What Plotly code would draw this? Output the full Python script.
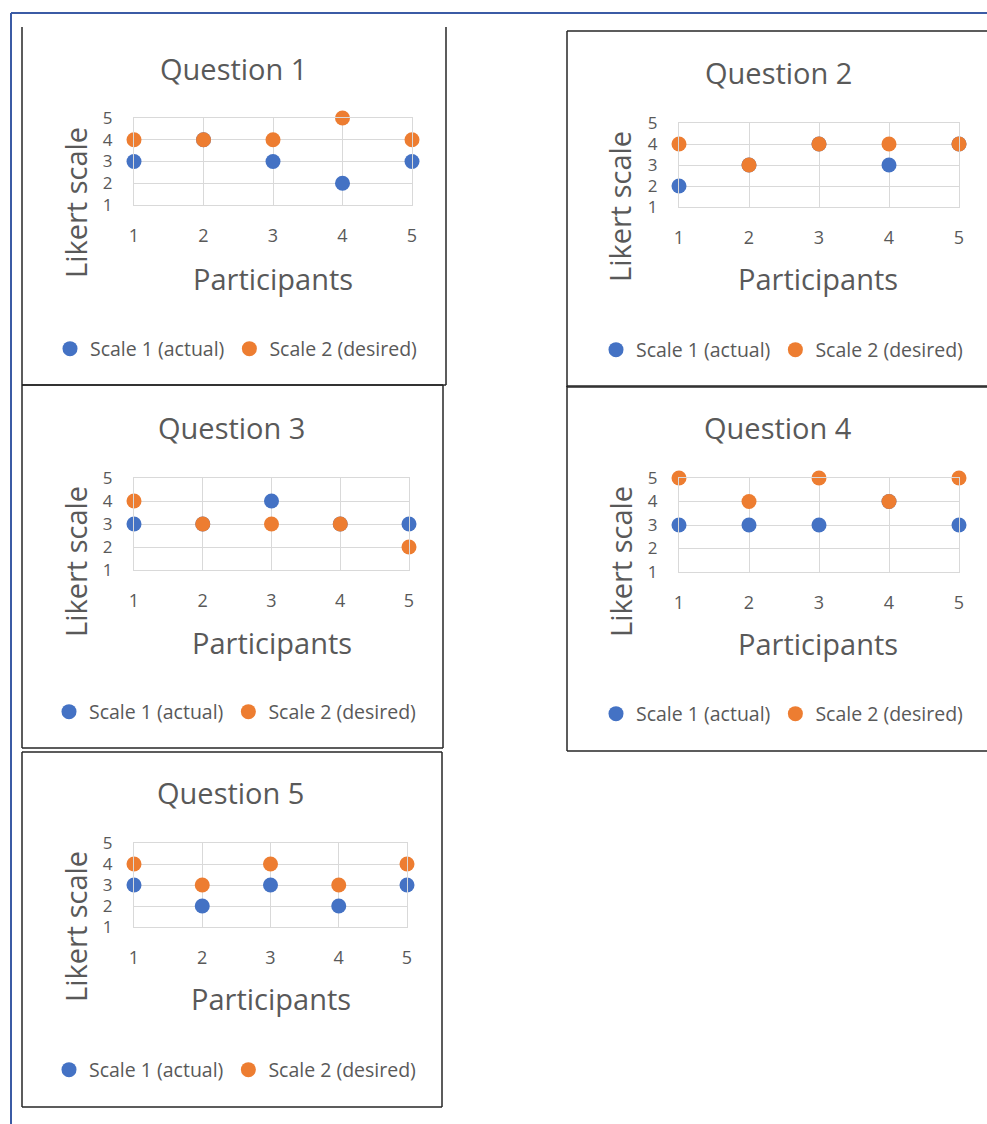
import plotly.graph_objects as go

W, H = 987, 1124

participants = [1, 2, 3, 4, 5]
likert_ticks = [1, 2, 3, 4, 5]
question_titles = ["Question 1", "Question 2", "Question 3", "Question 4", "Question 5"]
actual_q1 = [3, 4, 3, 2, 3]
desired_q1 = [4, 4, 4, 5, 4]
actual_q2 = [2, 3, 4, 3, 4]
desired_q2 = [4, 3, 4, 4, 4]
actual_q3 = [3, 3, 4, 3, 3]
desired_q3 = [4, 3, 3, 3, 2]
actual_q4 = [3, 3, 3, 4, 3]
desired_q4 = [5, 4, 5, 4, 5]
actual_q5 = [3, 2, 3, 2, 3]
desired_q5 = [4, 3, 4, 3, 4]
actual_all = [actual_q1, actual_q2, actual_q3, actual_q4, actual_q5]
desired_all = [desired_q1, desired_q2, desired_q3, desired_q4, desired_q5]
series_names = ["Scale 1 (actual)", "Scale 2 (desired)"]
x_title = "Participants"
y_title = "Likert scale"

BLUE = "#4472C4"
ORANGE = "#ED7D31"
TXT = "#595959"
GRID = "#D9D9D9"
FONT = "Open Sans"


def px(x):
    return x / W


def py(y):
    return 1 - y / H


# layout of each panel in pixels: plot area (x0, x1, ytop, ybottom), title center, axis-title positions, legend
panels = [
    dict(plot=(134, 412, 118, 205), title=(233, 68), ytit=(75, 203), xtit=(273, 278), leg=(50, 349),
         box=(22, 27, 446, 385, False)),
    dict(plot=(679, 959, 123, 207), title=(778, 72), ytit=(620, 207), xtit=(818, 278), leg=(596, 350),
         box=(567, 31, 1000, 387, True)),
    dict(plot=(134, 409, 478, 570), title=(231, 427), ytit=(75, 562), xtit=(272, 642), leg=(49, 712),
         box=(22, 385, 443, 748, True)),
    dict(plot=(679, 959, 478, 572), title=(778, 427), ytit=(620, 562), xtit=(818, 643), leg=(596, 714),
         box=(567, 386, 1000, 751, True)),
    dict(plot=(134, 407, 843, 927), title=(230, 792), ytit=(75, 927), xtit=(271, 998), leg=(49, 1070),
         box=(22, 752, 442, 1107, True)),
]

fig = go.Figure()
shapes = []
annotations = []
layout_upd = {}

for i, p in enumerate(panels):
    n = i + 1
    xa = "x" if n == 1 else f"x{n}"
    ya = "y" if n == 1 else f"y{n}"
    legname = "legend" if n == 1 else f"legend{n}"
    x0, x1, yt, yb = p["plot"]
    for vals, name, col in [(actual_all[i], series_names[0], BLUE), (desired_all[i], series_names[1], ORANGE)]:
        fig.add_trace(go.Scatter(
            x=participants, y=vals, mode="markers", name=name,
            marker=dict(color=col, size=15), xaxis=xa, yaxis=ya,
            legend=legname, cliponaxis=False,
        ))
    axkey = "xaxis" if n == 1 else f"xaxis{n}"
    aykey = "yaxis" if n == 1 else f"yaxis{n}"
    layout_upd[axkey] = dict(
        domain=[px(x0), px(x1)], range=[1, 5], tickvals=participants, anchor=ya,
        showgrid=True, gridcolor=GRID, gridwidth=1, zeroline=False,
        showline=True, linecolor=GRID, linewidth=1, mirror=True,
        tickfont=dict(family=FONT, size=18, color=TXT), ticks="", ticklabelstandoff=14,
        fixedrange=True, automargin=False,
    )
    layout_upd[aykey] = dict(
        domain=[py(yb), py(yt)], range=[1, 5], tickvals=likert_ticks, anchor=xa,
        showgrid=True, gridcolor=GRID, gridwidth=1, zeroline=False,
        showline=True, linecolor=GRID, linewidth=1, mirror=True,
        tickfont=dict(family=FONT, size=17, color=TXT), ticks="", ticklabelstandoff=17,
        fixedrange=True, automargin=False,
    )
    lx, ly = p["leg"]
    layout_upd[legname] = dict(
        x=px(lx), y=py(ly), xanchor="left", yanchor="middle", orientation="h",
        font=dict(family=FONT, size=19.5, color=TXT), bgcolor="rgba(0,0,0,0)",
        itemwidth=30, tracegroupgap=0,
    )
    tx, ty = p["title"]
    annotations.append(dict(text=question_titles[i], x=px(tx), y=py(ty), xref="paper", yref="paper",
                            showarrow=False, xanchor="center", yanchor="middle",
                            font=dict(family=FONT, size=29, color=TXT)))
    ax_, ay_ = p["ytit"]
    annotations.append(dict(text=y_title, x=px(ax_), y=py(ay_), xref="paper", yref="paper",
                            showarrow=False, xanchor="center", yanchor="middle", textangle=-90,
                            font=dict(family=FONT, size=29, color=TXT)))
    bx, by = p["xtit"]
    annotations.append(dict(text=x_title, x=px(bx), y=py(by), xref="paper", yref="paper",
                            showarrow=False, xanchor="center", yanchor="middle",
                            font=dict(family=FONT, size=29, color=TXT)))
    # panel border
    bx0, by0, bx1, by1, top = p["box"]
    line = dict(color="#262626", width=1.5)
    shapes.append(dict(type="line", xref="paper", yref="paper", x0=px(bx0), x1=px(bx0), y0=py(by0), y1=py(by1), line=line))
    shapes.append(dict(type="line", xref="paper", yref="paper", x0=px(bx1), x1=px(bx1), y0=py(by0), y1=py(by1), line=line))
    shapes.append(dict(type="line", xref="paper", yref="paper", x0=px(bx0), x1=px(bx1), y0=py(by1), y1=py(by1), line=line))
    if top:
        shapes.append(dict(type="line", xref="paper", yref="paper", x0=px(bx0), x1=px(bx1), y0=py(by0), y1=py(by0), line=line))

# page border (blue)
pb = dict(color="#3B5BA5", width=2)
shapes.append(dict(type="line", xref="paper", yref="paper", x0=px(11), x1=px(1000), y0=py(13), y1=py(13), line=pb))
shapes.append(dict(type="line", xref="paper", yref="paper", x0=px(11), x1=px(11), y0=py(13), y1=py(1130), line=pb))

fig.update_layout(
    width=W, height=H, autosize=False,
    margin=dict(l=0, r=0, t=0, b=0, pad=0, autoexpand=False),
    paper_bgcolor="white", plot_bgcolor="white",
    shapes=shapes, annotations=annotations,
    showlegend=True,
    **layout_upd,
)

fig.write_html("out.html", config={"displayModeBar": False},
               post_script="document.body.style.margin='0';document.body.style.overflow='hidden';")
